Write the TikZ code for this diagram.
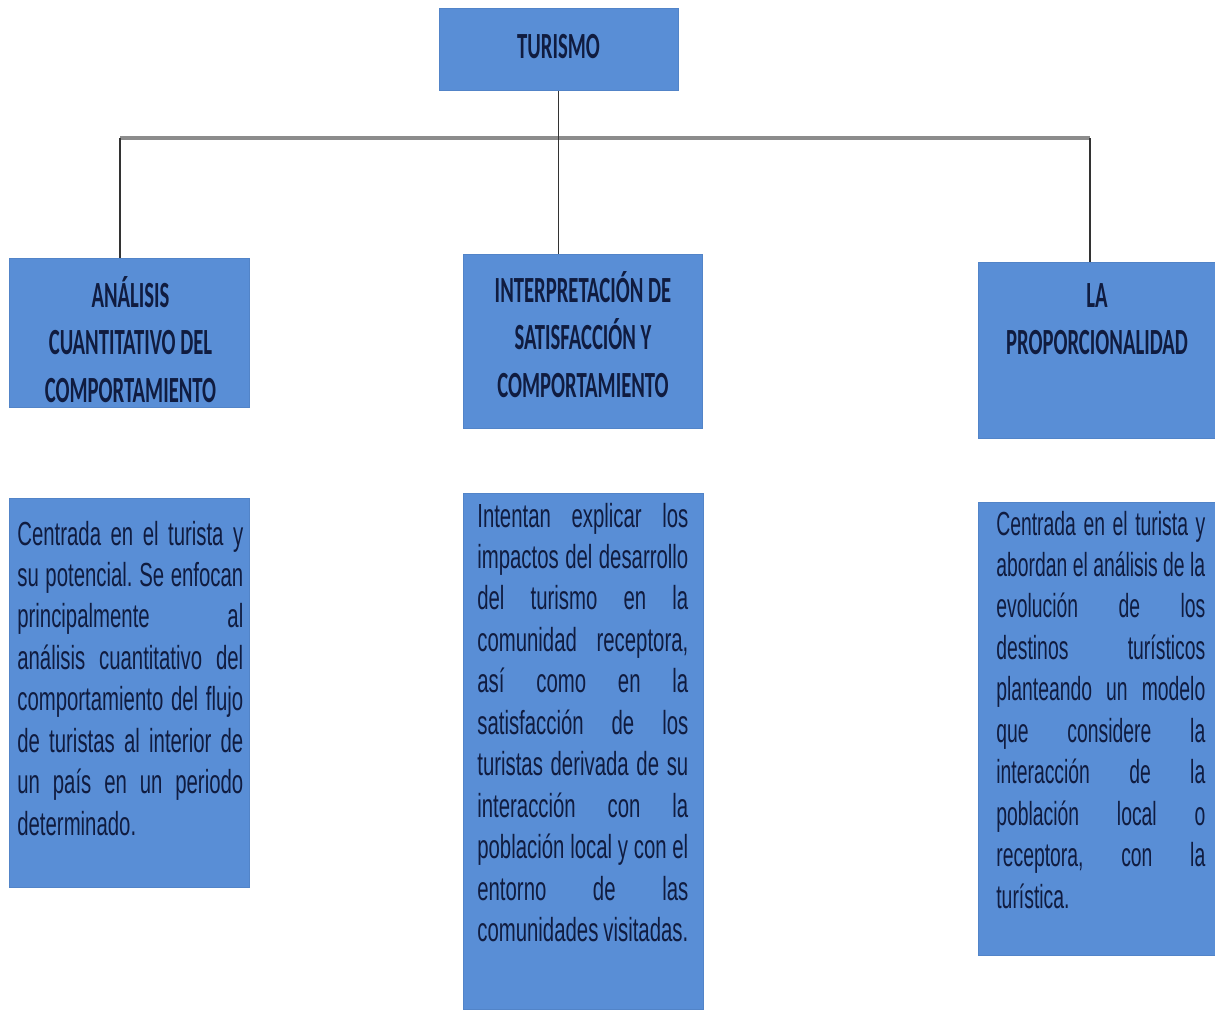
\documentclass[tikz,border=0pt]{standalone}
\usepackage{fontspec}
\usepackage{tikz}

\newfontfamily\titlefont[FakeStretch=0.56]{Carlito}
\newfontfamily\bodyfont[FakeStretch=0.61]{Liberation Sans}
\newfontfamily\bodyfontn[FakeStretch=0.58]{Liberation Sans}

\definecolor{boxblue}{RGB}{89,142,214}
\definecolor{boxedge}{RGB}{82,132,200}
\definecolor{inkblue}{RGB}{16,28,64}
\definecolor{bargray}{RGB}{140,140,140}

\begin{document}
\begin{tikzpicture}[x=0.02cm, y=-0.02cm,
    caja/.style={rectangle, fill=boxblue, draw=boxedge, line width=0.4pt, inner sep=0pt, anchor=north west},
    titulo/.style={text=inkblue, font={\titlefont\bfseries\fontsize{21}{27.3}\selectfont}, align=center, inner sep=0pt, anchor=base, execute at begin node={\spaceskip=2.7pt\relax}},
    texto/.style={text=inkblue, font={\bodyfont\fontsize{19}{23.6}\selectfont\frenchspacing\tolerance=10000\hbadness=10000\hyphenpenalty=10000}, align=justify, inner sep=0pt, anchor=base west},
    barra/.style={draw=bargray, line width=2.2pt},
    tallo/.style={draw=black!80, line width=0.6pt}]

\fill[white] (0,0) rectangle (1215,1009);
\useasboundingbox (0,0) rectangle (1215,1009);

% cajas
\node[caja, minimum width=4.78cm, minimum height=1.64cm] (tur) at (439,8) {};
\node[caja, minimum width=4.8cm, minimum height=2.98cm] (t1) at (9,258) {};
\node[caja, minimum width=4.78cm, minimum height=3.48cm] (t2) at (463,254) {};
\node[caja, minimum width=4.74cm, minimum height=3.52cm] (t3) at (978,262) {};
\node[caja, minimum width=4.8cm, minimum height=7.78cm] (b1) at (9,498) {};
\node[caja, minimum width=4.8cm, minimum height=10.32cm] (b2) at (463,493) {};
\node[caja, minimum width=4.74cm, minimum height=9.06cm] (b3) at (978,502) {};

% titulos
\node[titulo] (tur-t) at (558.5,58) {TURISMO};
\node[titulo, text width=4.6cm] (t1-t) at (130.5,307) {ANÁLISIS\\CUANTITATIVO DEL\\COMPORTAMIENTO};
\node[titulo, text width=4.6cm] (t2-t) at (583,302) {INTERPRETACIÓN DE\\SATISFACCIÓN Y\\COMPORTAMIENTO};
\node[titulo, text width=4.6cm] (t3-t) at (1097,307) {LA\\PROPORCIONALIDAD};

% textos
\node[texto, text width=4.52cm] (b1-t) at (17,545) {Centrada en el turista y\linebreak
su potencial. Se enfocan\linebreak
principalmente al\linebreak
análisis cuantitativo del\linebreak
comportamiento del flujo\linebreak
de turistas al interior de\linebreak
un país en un periodo\linebreak
determinado.};

\node[texto, text width=4.22cm] (b2-t) at (477,527) {Intentan explicar los\linebreak
impactos del desarrollo\linebreak
del turismo en la\linebreak
comunidad receptora,\linebreak
así como en la\linebreak
satisfacción de los\linebreak
turistas derivada de su\linebreak
interacción con la\linebreak
población local y con el\linebreak
entorno de las\linebreak
comunidades visitadas.};

\node[texto, text width=4.18cm, font={\bodyfontn\fontsize{19}{23.6}\selectfont\frenchspacing\tolerance=10000\hbadness=10000\hyphenpenalty=10000}] (b3-t) at (996,535) {Centrada en el turista y\linebreak
abordan el análisis de la\linebreak
evolución de los\linebreak
destinos turísticos\linebreak
planteando un modelo\linebreak
que considere la\linebreak
interacción de la\linebreak
población local o\linebreak
receptora, con la\linebreak
turística.};

% conectores
\coordinate (hl) at (120,138);
\coordinate (hr) at (1090,138);
\draw[barra] (hl) -- (hr);
\draw[tallo] (tur.south) -- (tur.south |- t2.north);
\foreach \c/\b in {hl/t1, hr/t3}
    \draw[tallo] (\c) -- (\c |- \b.north);

\end{tikzpicture}
\end{document}
